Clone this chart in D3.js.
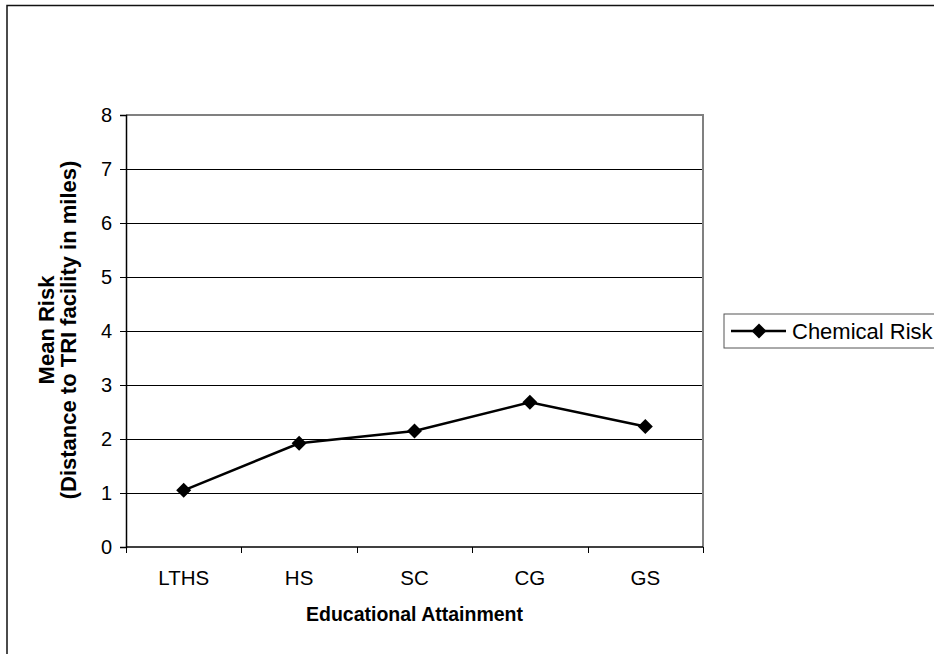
<!DOCTYPE html>
<html>
<head>
<meta charset="utf-8">
<script src="https://cdn.jsdelivr.net/npm/d3@7"></script>
<style>
  html, body { margin: 0; padding: 0; background: #fff; }
  svg { display: block; font-family: Arial, "Liberation Sans", sans-serif; }
</style>
</head>
<body>
<svg id="chart" width="934" height="654"></svg>
<script>
// Mean distance to nearest TRI facility by education level
const categories = ["LTHS", "HS", "SC", "CG", "GS"];
const chemicalRisk = [1.05, 1.92, 2.15, 2.68, 2.23];
const yTicks = [0, 1, 2, 3, 4, 5, 6, 7, 8];
const seriesName = "Chemical Risk";

const svg = d3.select("#chart");
const plot = { left: 126, right: 703, top: 115, bottom: 547 };

// Outer chart frame
svg.append("rect")
  .attr("x", 7).attr("y", 5.5)
  .attr("width", 960).attr("height", 700)
  .attr("fill", "#fff").attr("stroke", "#111").attr("stroke-width", 1.5);

const x = d3.scaleBand().domain(categories).range([plot.left, plot.right]).padding(0);
const y = d3.scaleLinear().domain([0, 8]).range([plot.bottom, plot.top]);

// Horizontal gridlines
svg.append("g")
  .selectAll("line")
  .data(yTicks.filter(t => t > 0 && t < 8))
  .join("line")
  .attr("x1", plot.left).attr("x2", plot.right)
  .attr("y1", d => Math.round(y(d)) + 0.5).attr("y2", d => Math.round(y(d)) + 0.5)
  .attr("stroke", "#000").attr("stroke-width", 1);

// Plot area border (top and right, gray)
svg.append("path")
  .attr("d", `M${plot.left},${plot.top} H${plot.right} V${plot.bottom}`)
  .attr("fill", "none").attr("stroke", "#808080").attr("stroke-width", 2);

// Y axis
const yAxis = d3.axisLeft(y).tickValues(yTicks).tickSize(6).tickPadding(8).tickFormat(d3.format("d"));
const gy = svg.append("g").attr("transform", `translate(${plot.left},0)`).call(yAxis);
gy.select(".domain").attr("stroke", "#000").attr("stroke-width", 1.5);
gy.selectAll(".tick line").attr("stroke", "#000");
gy.selectAll(".tick text").attr("font-size", 20).attr("fill", "#000")
  .attr("font-family", "Arial, 'Liberation Sans', sans-serif");

// X axis: ticks at category boundaries
const gx = svg.append("g").attr("transform", `translate(0,${plot.bottom})`);
gx.append("line").attr("x1", plot.left).attr("x2", plot.right)
  .attr("y1", 0).attr("y2", 0).attr("stroke", "#000").attr("stroke-width", 1.5);
const boundaries = categories.map(c => x(c)).concat([x(categories[categories.length - 1]) + x.bandwidth()]);
gx.selectAll("line.tick").data(boundaries).join("line").attr("class", "tick")
  .attr("x1", d => Math.round(d) + 0.5).attr("x2", d => Math.round(d) + 0.5)
  .attr("y1", 0).attr("y2", 6).attr("stroke", "#000");
gx.selectAll("text").data(categories).join("text")
  .attr("x", d => x(d) + x.bandwidth() / 2)
  .attr("y", 38)
  .attr("text-anchor", "middle")
  .attr("font-size", 20.5).attr("fill", "#000")
  .text(d => d);

// Axis titles
svg.append("text")
  .attr("x", (plot.left + plot.right) / 2).attr("y", 621)
  .attr("text-anchor", "middle").attr("font-size", 19.5).attr("font-weight", "bold")
  .text("Educational Attainment");

const yt = svg.append("text")
  .attr("transform", `translate(0,${(plot.top + plot.bottom) / 2 - 1}) rotate(-90)`)
  .attr("text-anchor", "middle").attr("font-size", 22).attr("font-weight", "bold");
yt.append("tspan").attr("x", 0).attr("y", 54).text("Mean Risk");
yt.append("tspan").attr("x", 0).attr("y", 76).text("(Distance to TRI facility in miles)");

// Series line and markers
const cx = d => x(d) + x.bandwidth() / 2;
const line = d3.line().x((d, i) => cx(categories[i])).y(d => y(d));
svg.append("path").datum(chemicalRisk)
  .attr("d", line).attr("fill", "none").attr("stroke", "#000").attr("stroke-width", 2.5);

const diamondPath = "M0,-7.5L7.5,0L0,7.5L-7.5,0Z";
svg.append("g").selectAll("path").data(chemicalRisk).join("path")
  .attr("transform", (d, i) => `translate(${cx(categories[i])},${y(d)})`)
  .attr("d", diamondPath).attr("fill", "#000");

// Legend
const lg = svg.append("g").attr("transform", "translate(724,314)");
lg.append("rect").attr("x", 0).attr("y", 0).attr("width", 212).attr("height", 34)
  .attr("fill", "#fff").attr("stroke", "#555").attr("stroke-width", 1);
lg.append("line").attr("x1", 7).attr("x2", 62).attr("y1", 17).attr("y2", 17)
  .attr("stroke", "#000").attr("stroke-width", 2.5);
lg.append("path").attr("transform", "translate(35,17)").attr("d", diamondPath).attr("fill", "#000");
lg.append("text").attr("x", 68).attr("y", 24.5).attr("font-size", 22).text(seriesName);
</script>
</body>
</html>
